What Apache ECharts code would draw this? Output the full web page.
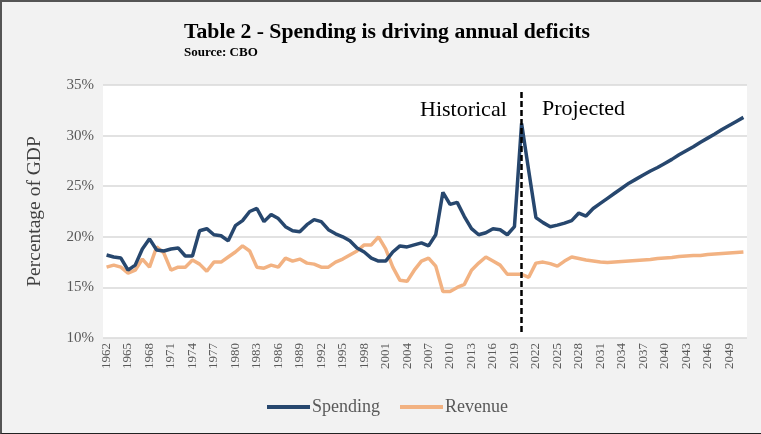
<!DOCTYPE html>
<html lang="en">
<head>
    <meta charset="utf-8" />
    <title>Spending is driving annual deficits</title>
    <script src="https://cdn.jsdelivr.net/npm/echarts@6/dist/echarts.min.js"></script>
    <style>
        html, body { margin: 0; padding: 0; background: #f2f2f2; }
        #main { width: 759px; height: 431px; border-top: 2px solid #555; border-left: 2px solid #555; border-bottom: 1px solid #222; box-sizing: content-box; }
    </style>
</head>
<body>
    <div id="main"></div>
    <script type="text/javascript">
        // years 1962 - 2051
        var years = [];
        for (var y = 1962; y <= 2051; y++) { years.push(String(y)); }

        // outlays, % of GDP (1962-2020 actual, 2021-2051 projected)
        var spending = [
            18.2, 18.0, 17.9, 16.7, 17.2, 18.8, 19.8, 18.7, 18.6, 18.8,
            18.9, 18.1, 18.1, 20.6, 20.8, 20.2, 20.1, 19.6, 21.1, 21.6,
            22.5, 22.8, 21.5, 22.2, 21.8, 21.0, 20.6, 20.5, 21.2, 21.7,
            21.5, 20.7, 20.3, 20.0, 19.6, 18.9, 18.5, 17.9, 17.6, 17.6,
            18.5, 19.1, 19.0, 19.2, 19.4, 19.1, 20.2, 24.4, 23.2, 23.4,
            22.0, 20.8, 20.2, 20.4, 20.8, 20.7, 20.2, 21.0, 31.2, 26.5,
            21.9, 21.4, 21.0, 21.15, 21.35, 21.6, 22.35, 22.05, 22.8, 23.3,
            23.8, 24.3, 24.8, 25.3, 25.7, 26.1, 26.5, 26.85, 27.25, 27.65,
            28.1, 28.5, 28.9, 29.35, 29.75, 30.15, 30.6, 31.0, 31.4, 31.8
        ];

        // revenues, % of GDP
        var revenue = [
            17.0, 17.2, 17.0, 16.4, 16.7, 17.8, 17.0, 19.0, 18.4, 16.7,
            17.0, 17.0, 17.7, 17.3, 16.6, 17.5, 17.5, 18.0, 18.5, 19.1,
            18.6, 17.0, 16.9, 17.2, 17.0, 17.9, 17.6, 17.8, 17.4, 17.3,
            17.0, 17.0, 17.5, 17.8, 18.2, 18.6, 19.2, 19.2, 20.0, 18.8,
            17.0, 15.7, 15.6, 16.7, 17.6, 17.9, 17.1, 14.6, 14.6, 15.0,
            15.3, 16.7, 17.4, 18.0, 17.6, 17.2, 16.3, 16.3, 16.3, 16.0,
            17.4, 17.5, 17.35, 17.1, 17.6, 18.0, 17.85, 17.7, 17.6, 17.5,
            17.45, 17.5, 17.55, 17.6, 17.65, 17.7, 17.75, 17.85, 17.9, 17.95,
            18.05, 18.1, 18.15, 18.15, 18.25, 18.3, 18.35, 18.4, 18.45, 18.5
        ];

        var splitYear = '2020';
        var serif = '"Liberation Serif", "DejaVu Serif", serif';

        var myChart = echarts.init(document.getElementById('main'));
        var option = {
            backgroundColor: '#f2f2f2',
            animation: false,
            title: {
                text: 'Table 2 - Spending is driving annual deficits',
                subtext: 'Source: CBO',
                left: 177,
                top: 14,
                itemGap: 3,
                textStyle: { fontFamily: serif, fontWeight: 'bold', fontSize: 21.7, color: '#000' },
                subtextStyle: { fontFamily: serif, fontWeight: 'bold', fontSize: 13, color: '#000' }
            },
            legend: {
                data: ['Spending', 'Revenue'],
                left: 260,
                top: 391,
                icon: 'rect',
                itemWidth: 43,
                itemHeight: 4,
                itemGap: 20,
                textStyle: { fontFamily: serif, fontSize: 18, color: '#595959', padding: [0, 0, 0, -3] }
            },
            grid: {
                left: 101,
                right: 14,
                top: 83,
                bottom: 95,
                show: true,
                backgroundColor: '#ffffff',
                borderWidth: 0
            },
            xAxis: {
                type: 'category',
                data: years,
                boundaryGap: true,
                axisLine: { show: false },
                axisTick: { show: false },
                axisLabel: {
                    interval: 2,
                    rotate: 90,
                    margin: 5,
                    fontFamily: serif,
                    fontSize: 13,
                    color: '#595959'
                }
            },
            yAxis: {
                type: 'value',
                min: 10,
                max: 35,
                interval: 5,
                name: 'Percentage of GDP',
                nameLocation: 'middle',
                nameGap: 58,
                nameTextStyle: { fontFamily: serif, fontSize: 19.5, color: '#404040' },
                axisLine: { show: false },
                axisTick: { show: false },
                axisLabel: {
                    formatter: '{value}%',
                    fontFamily: serif,
                    fontSize: 15,
                    color: '#595959',
                    margin: 9
                },
                splitLine: { lineStyle: { color: '#d9d9d9', width: 1.5 } }
            },
            series: [
                {
                    name: 'Spending',
                    type: 'line',
                    data: spending,
                    symbol: 'none',
                    lineStyle: { color: '#27476e', width: 3.5 },
                    itemStyle: { color: '#27476e' },
                    z: 3,
                    markLine: {
                        silent: true,
                        symbol: ['none', 'none'],
                        label: { show: false },
                        lineStyle: { color: '#000', type: [6, 3], width: 2.5 },
                        data: [[{ coord: [splitYear, 34.3] }, { coord: [splitYear, 10.6] }]]
                    }
                },
                {
                    name: 'Revenue',
                    type: 'line',
                    data: revenue,
                    symbol: 'none',
                    lineStyle: { color: '#f2b282', width: 3.5 },
                    itemStyle: { color: '#f2b282' },
                    z: 2
                }
            ],
            graphic: [
                {
                    type: 'text', left: 418, top: 97,
                    style: { text: 'Historical', font: '22px ' + serif, fill: '#000' }
                },
                {
                    type: 'text', left: 540, top: 96,
                    style: { text: 'Projected', font: '22px ' + serif, fill: '#000' }
                }
            ]
        };
        myChart.setOption(option);

        window.onresize = function () {
            myChart.resize();
        };
    </script>
</body>
</html>
